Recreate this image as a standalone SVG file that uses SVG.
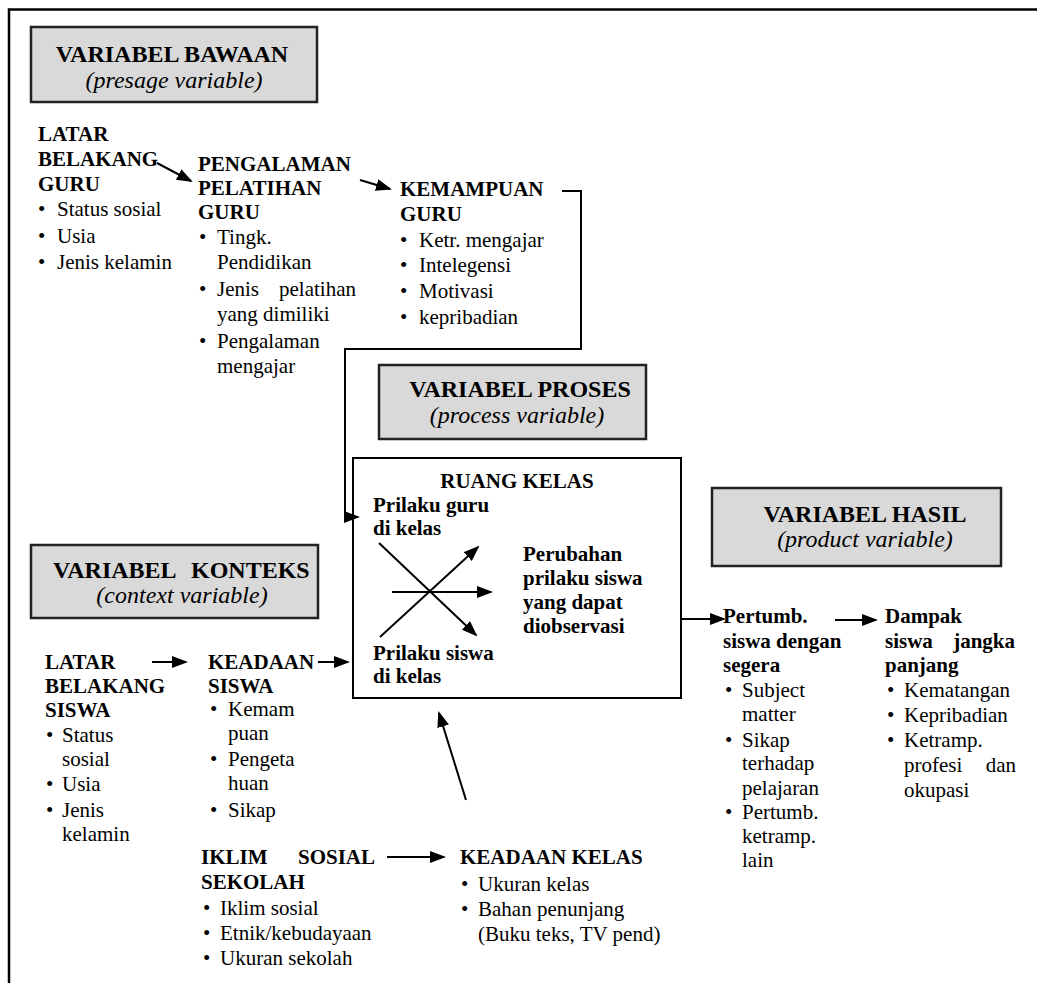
<svg xmlns="http://www.w3.org/2000/svg" width="1037" height="983" viewBox="0 0 1037 983">
<style>
text{font-family:"Liberation Serif","Times New Roman",serif;fill:#000}
.b{font-size:21px;font-weight:bold}
.r{font-size:21px}
.hb{font-size:24px;font-weight:bold;text-anchor:middle}
.hs{font-size:24px;font-weight:bold}
.hi{font-size:24px;font-style:italic;text-anchor:middle}
.m{text-anchor:middle}
.hdr{fill:#d9d9d9;stroke:#222;stroke-width:2.5}
.box{fill:#fff;stroke:#000;stroke-width:2}
.c{fill:none;stroke:#000;stroke-width:2}
.e{text-anchor:end}
</style>
<defs>
<marker id="ah" viewBox="0 0 16 12" refX="14" refY="6" markerWidth="16" markerHeight="12" markerUnits="userSpaceOnUse" orient="auto">
<path d="M0,0 L16,6 L0,12 z" fill="#000"/>
</marker>
</defs>
<rect width="1037" height="983" fill="#fff"/>
<path d="M9,983 L9,9.5 L1037,9.5" fill="none" stroke="#000" stroke-width="2.5"/>

<g id="hdr-bawaan">
<rect class="hdr" x="31" y="27" width="286" height="75"/>
<text class="hb" x="172" y="62">VARIABEL BAWAAN</text>
<text class="hi" x="174" y="88">(presage variable)</text>
</g>

<g id="latar-guru">
<text class="b" x="38" y="141">LATAR</text>
<text class="b" x="38" y="166">BELAKANG</text>
<text class="b" x="38" y="191">GURU</text>
<text class="r" x="38" y="216">•</text><text class="r" x="57" y="216">Status sosial</text>
<text class="r" x="38" y="243">•</text><text class="r" x="57" y="243">Usia</text>
<text class="r" x="38" y="269">•</text><text class="r" x="57" y="269">Jenis kelamin</text>
</g>

<g id="pengalaman">
<text class="b" x="198" y="171">PENGALAMAN</text>
<text class="b" x="198" y="195">PELATIHAN</text>
<text class="b" x="198" y="219">GURU</text>
<text class="r" x="199" y="244">•</text><text class="r" x="217" y="244">Tingk.</text>
<text class="r" x="217" y="269">Pendidikan</text>
<text class="r" x="199" y="296">•</text><text class="r" x="217" y="296">Jenis</text><text class="r e" x="356" y="296">pelatihan</text>
<text class="r" x="217" y="321">yang dimiliki</text>
<text class="r" x="199" y="348">•</text><text class="r" x="217" y="348">Pengalaman</text>
<text class="r" x="217" y="373">mengajar</text>
</g>

<g id="kemampuan">
<text class="b" x="400" y="196">KEMAMPUAN</text>
<text class="b" x="400" y="221">GURU</text>
<text class="r" x="400" y="247">•</text><text class="r" x="419" y="247">Ketr. mengajar</text>
<text class="r" x="400" y="272">•</text><text class="r" x="419" y="272">Intelegensi</text>
<text class="r" x="400" y="298">•</text><text class="r" x="419" y="298">Motivasi</text>
<text class="r" x="400" y="324">•</text><text class="r" x="419" y="324">kepribadian</text>
</g>

<g id="hdr-proses">
<rect class="hdr" x="379" y="365" width="267" height="74"/>
<text class="hb" x="520" y="397">VARIABEL PROSES</text>
<text class="hi" x="517" y="423">(process variable)</text>
</g>

<g id="ruang-kelas">
<rect class="box" x="353" y="458" width="328" height="240"/>
<text class="b m" x="517" y="488">RUANG KELAS</text>
<text class="b" x="373" y="512">Prilaku guru</text>
<text class="b" x="373" y="535">di kelas</text>
<text class="b" x="523" y="561">Perubahan</text>
<text class="b" x="523" y="585">prilaku siswa</text>
<text class="b" x="523" y="609">yang dapat</text>
<text class="b" x="523" y="633">diobservasi</text>
<text class="b" x="373" y="660">Prilaku siswa</text>
<text class="b" x="373" y="683">di kelas</text>
</g>

<g id="hdr-hasil">
<rect class="hdr" x="712" y="488" width="289" height="78"/>
<text class="hb" x="865" y="522">VARIABEL HASIL</text>
<text class="hi" x="865" y="547">(product variable)</text>
</g>

<g id="hdr-konteks">
<rect class="hdr" x="31" y="545" width="287" height="73"/>
<text class="hs" x="53" y="578">VARIABEL</text><text class="hs" x="191" y="578">KONTEKS</text>
<text class="hi" x="182" y="603">(context variable)</text>
</g>

<g id="latar-siswa">
<text class="b" x="45" y="669">LATAR</text>
<text class="b" x="45" y="693">BELAKANG</text>
<text class="b" x="45" y="717">SISWA</text>
<text class="r" x="46" y="742">•</text><text class="r" x="62" y="742">Status</text>
<text class="r" x="62" y="766">sosial</text>
<text class="r" x="46" y="791">•</text><text class="r" x="62" y="791">Usia</text>
<text class="r" x="46" y="817">•</text><text class="r" x="62" y="817">Jenis</text>
<text class="r" x="62" y="841">kelamin</text>
</g>

<g id="keadaan-siswa">
<text class="b" x="208" y="669">KEADAAN</text>
<text class="b" x="208" y="693">SISWA</text>
<text class="r" x="210" y="716">•</text><text class="r" x="228" y="716">Kemam</text>
<text class="r" x="228" y="740">puan</text>
<text class="r" x="210" y="766">•</text><text class="r" x="228" y="766">Pengeta</text>
<text class="r" x="228" y="790">huan</text>
<text class="r" x="210" y="817">•</text><text class="r" x="228" y="817">Sikap</text>
</g>

<g id="iklim-sekolah">
<text class="b" x="201" y="864">IKLIM</text><text class="b e" x="375" y="864">SOSIAL</text>
<text class="b" x="201" y="889">SEKOLAH</text>
<text class="r" x="203" y="915">•</text><text class="r" x="220" y="915">Iklim sosial</text>
<text class="r" x="203" y="940">•</text><text class="r" x="220" y="940">Etnik/kebudayaan</text>
<text class="r" x="203" y="965">•</text><text class="r" x="220" y="965">Ukuran sekolah</text>
</g>

<g id="keadaan-kelas">
<text class="b" x="460" y="864">KEADAAN KELAS</text>
<text class="r" x="461" y="891">•</text><text class="r" x="478" y="891">Ukuran kelas</text>
<text class="r" x="461" y="916">•</text><text class="r" x="478" y="916">Bahan penunjang</text>
<text class="r" x="478" y="941">(Buku teks, TV pend)</text>
</g>

<g id="pertumbuhan">
<text class="b" x="723" y="623">Pertumb.</text>
<text class="b" x="723" y="648">siswa dengan</text>
<text class="b" x="723" y="672">segera</text>
<text class="r" x="725" y="697">•</text><text class="r" x="742" y="697">Subject</text>
<text class="r" x="742" y="721">matter</text>
<text class="r" x="725" y="747">•</text><text class="r" x="742" y="747">Sikap</text>
<text class="r" x="742" y="770">terhadap</text>
<text class="r" x="742" y="795">pelajaran</text>
<text class="r" x="725" y="819">•</text><text class="r" x="742" y="819">Pertumb.</text>
<text class="r" x="742" y="843">ketramp.</text>
<text class="r" x="742" y="867">lain</text>
</g>

<g id="dampak">
<text class="b" x="885" y="623">Dampak</text>
<text class="b" x="885" y="648">siswa</text><text class="b e" x="1015" y="648">jangka</text>
<text class="b" x="885" y="672">panjang</text>
<text class="r" x="887" y="697">•</text><text class="r" x="904" y="697">Kematangan</text>
<text class="r" x="887" y="722">•</text><text class="r" x="904" y="722">Kepribadian</text>
<text class="r" x="887" y="747">•</text><text class="r" x="904" y="747">Ketramp.</text>
<text class="r" x="904" y="772">profesi</text><text class="r e" x="1016" y="772">dan</text>
<text class="r" x="904" y="797">okupasi</text>
</g>

<g id="connectors" class="c">
<line class="c" x1="157" y1="163" x2="191" y2="181" marker-end="url(#ah)"/>
<line class="c" x1="360" y1="180" x2="390" y2="189" marker-end="url(#ah)"/>
<polyline class="c" points="562,191 581,191 581,349 345,349 345,517 358,517" marker-end="url(#ah)"/>
<line class="c" x1="152" y1="662" x2="186" y2="662" marker-end="url(#ah)"/>
<line class="c" x1="318" y1="662" x2="348" y2="662" marker-end="url(#ah)"/>
<line class="c" x1="379" y1="543" x2="476" y2="635" marker-end="url(#ah)"/>
<line class="c" x1="380" y1="637" x2="478" y2="547" marker-end="url(#ah)"/>
<line class="c" x1="392" y1="592" x2="491" y2="592" marker-end="url(#ah)"/>
<line class="c" x1="466" y1="800" x2="439" y2="713" marker-end="url(#ah)"/>
<line class="c" x1="387" y1="857" x2="444" y2="857" marker-end="url(#ah)"/>
<line class="c" x1="681" y1="619" x2="724" y2="619" marker-end="url(#ah)"/>
<line class="c" x1="835" y1="620" x2="876" y2="620" marker-end="url(#ah)"/>
</g>
</svg>
